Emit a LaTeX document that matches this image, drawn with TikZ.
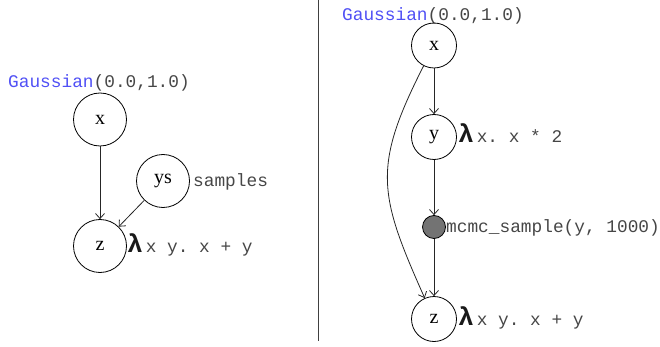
\documentclass[tikz,border=0pt]{standalone}
\usepackage{fontspec}
\setmainfont{Liberation Serif}
\setmonofont{Liberation Mono}
\usetikzlibrary{arrows.meta}
\definecolor{gblue}{RGB}{80,80,245}
\definecolor{txtgray}{RGB}{70,70,70}
\tikzset{
  bigvar/.style={circle,draw=black,line width=0.8pt,minimum size=53pt,inner sep=0pt,font=\fontsize{20}{20}\selectfont},
  smallvar/.style={circle,draw=black,line width=0.8pt,minimum size=45pt,inner sep=0pt,font=\fontsize{20}{20}\selectfont},
  dotvar/.style={circle,draw=black,line width=0.8pt,fill=black!55,minimum size=23pt,inner sep=0pt},
  lbl/.style={anchor=base west,inner sep=0pt,text=txtgray,font=\fontsize{17.8}{18}\ttfamily},
  edge/.style={draw=black!85,line width=0.8pt,-{Straight Barb[length=5pt,width=9pt]}},
}
\newcommand{\lam}{{\color{black!90}\fontsize{26}{26}\selectfont\bfseries λ}\kern3pt}
\begin{document}
\begin{tikzpicture}[x=1pt,y=-1pt]
\useasboundingbox (0,0) rectangle (660,347);
% divider
\coordinate (dtop) at (318,0);
\coordinate (dbot) at (318,341);
\draw[black!75,line width=1pt] (dtop) -- (dbot);
% left graph
\node[lbl] (lg) at (8,88) {\textcolor{gblue}{Gaussian}(0.0,1.0)};
\node[bigvar] (lx) at (100,119.5) {x};
\node[bigvar] (lys) at (163,181) {ys};
\node[bigvar] (lz) at (100,246) {z};
\node[lbl] (lsamp) at (193,187) {samples};
\node[lbl] (lzl) at (127,252) {\lam x y. x + y};
\draw[edge] (lx) -- (lz);
\draw[edge] (lys) -- (lz);
% right graph
\node[lbl] (rg) at (342,21) {\textcolor{gblue}{Gaussian}(0.0,1.0)};
\node[smallvar] (rx) at (434,45.5) {x};
\node[smallvar] (ry) at (434,137) {y};
\node[dotvar] (rm) at (434,227) {};
\node[smallvar] (rz) at (434,319) {z};
\node[lbl] (ryl) at (458,143) {\lam x. x * 2};
\node[lbl] (rml) at (446,233) {mcmc\_sample(y, 1000)};
\node[lbl] (rzl) at (458,325) {\lam x y. x + y};
\draw[edge] (rx) -- (ry);
\draw[edge] (ry) -- (rm);
\draw[edge] (rm) -- (rz);
\draw[edge] (rx) to[out=243,in=114,looseness=1.25] (rz);
\end{tikzpicture}
\end{document}
